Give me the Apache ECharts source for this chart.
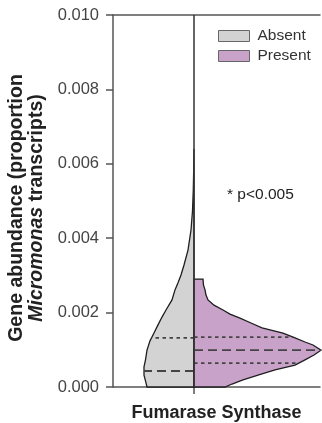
<!DOCTYPE html>
<html>
<head>
<meta charset="utf-8">
<script src="https://cdn.jsdelivr.net/npm/echarts@6/dist/echarts.min.js"></script>
<style>
html,body{margin:0;padding:0;background:#fff;}
#chart{width:322px;height:423px;}
</style>
</head>
<body>
<div id="chart"></div>
<script>
// ---- data ----
const categoryName = 'Fumarase Synthase';
const groupNames = ['Absent', 'Present'];
const yTicks = [0, 0.002, 0.004, 0.006, 0.008, 0.010];

// Absent half-violin: abundance values and half-widths (density, drawn to the left)
const absentValues = [0, 0.00011, 0.00032, 0.00054, 0.00073, 0.00099, 0.00124, 0.00145, 0.00167, 0.00188, 0.00207, 0.00234, 0.00261, 0.0028, 0.00301, 0.00328, 0.00368, 0.00422, 0.00473, 0.0053, 0.00583, 0.0064];
const absentWidths = [47, 48, 50, 50, 48.5, 47, 44, 40, 36, 32, 28, 22, 19, 16, 13, 10, 6, 3, 1.5, 0.7, 0.3, 0];
const absentMedian = 0.00043;
const absentUpperQ = 0.00132;

// Present half-violin (drawn to the right)
const presentValues = [0, 0.00008, 0.00019, 0.00032, 0.00046, 0.00059, 0.00073, 0.00086, 0.00099, 0.00113, 0.00121, 0.00132, 0.00145, 0.00159, 0.00172, 0.00185, 0.00196, 0.00207, 0.0022, 0.00234, 0.00247, 0.00261, 0.00274, 0.0029];
const presentWidths = [31, 38, 49, 64, 81, 101, 111, 120, 127, 119, 111, 101, 89, 68, 57, 46, 36, 29, 20, 14, 12, 11, 9.5, 9];
const presentLowerQ = 0.00064;
const presentMedian = 0.00099;
const presentUpperQ = 0.00134;

const annotation = '* p<0.005';
// ---- end data ----

const colors = {Absent: '#d3d3d3', Present: '#c9a2c9'};

function interpWidth(values, widths, v) {
  for (let i = 0; i < values.length - 1; i++) {
    if (v >= values[i] && v <= values[i + 1]) {
      const t = (v - values[i]) / (values[i + 1] - values[i]);
      return widths[i] + t * (widths[i + 1] - widths[i]);
    }
  }
  return 0;
}

function makeRender(side, values, widths, fill, qLines) {
  return function (params, api) {
    const pts = [api.coord([0, values[0]])];
    for (let i = 0; i < values.length; i++) {
      pts.push(api.coord([side * widths[i], values[i]]));
    }
    pts.push(api.coord([0, values[values.length - 1]]));
    const children = [{
      type: 'polygon',
      shape: {points: pts},
      style: {fill: fill, stroke: '#1e1e1e', lineWidth: 1.3}
    }];
    qLines.forEach(function (q) {
      const w = interpWidth(values, widths, q.v);
      const a = api.coord([0, q.v]);
      const b = api.coord([side * w, q.v]);
      children.push({
        type: 'line',
        shape: {x1: a[0], y1: a[1], x2: b[0], y2: b[1]},
        style: {stroke: '#444', lineWidth: 1.8, lineDash: q.dash}
      });
    });
    return {type: 'group', children: children};
  };
}

const dotted = [3.5, 3.5];
const dashed = [9, 5];

const chart = echarts.init(document.getElementById('chart'), null, {renderer: 'canvas'});
const fontFamily = '"Liberation Sans", Arial, Helvetica, sans-serif';

chart.setOption({
  animation: false,
  backgroundColor: '#fff',
  textStyle: {fontFamily: fontFamily},
  grid: {left: 113, right: 2, top: 15, bottom: 36, containLabel: false, outerBoundsMode: 'none'},
  legend: {
    orient: 'vertical', left: 213, top: 23,
    itemWidth: 31, itemHeight: 11, itemGap: 4,
    textStyle: {fontSize: 15.5, color: '#333', fontFamily: fontFamily, padding: [0, 0, 0, 3]},
    data: groupNames.map(function (n) {
      return {name: n, icon: 'rect', itemStyle: {color: colors[n], borderColor: '#666', borderWidth: 1}};
    })
  },
  graphic: [{
    type: 'text', left: 227, top: 187,
    style: {text: annotation, fontSize: 15.5, fill: '#222', fontFamily: fontFamily}
  }],
  xAxis: [{
    type: 'value', min: -81, max: 126,
    position: 'bottom',
    name: categoryName, nameLocation: 'middle', nameGap: 17,
    nameTextStyle: {fontSize: 18, fontWeight: 'bold', color: '#222', fontFamily: fontFamily},
    axisLine: {show: true, onZero: false, lineStyle: {color: '#555', width: 1.5}},
    axisTick: {show: true, customValues: [0], length: 7, lineStyle: {color: '#555', width: 1.5}},
    axisLabel: {show: false},
    splitLine: {show: false}
  }, {
    type: 'value', min: -81, max: 126,
    position: 'top',
    axisLine: {show: true, onZero: false, lineStyle: {color: '#555', width: 1.5}},
    axisTick: {show: false}, axisLabel: {show: false}, splitLine: {show: false}
  }],
  yAxis: {
    type: 'value', min: 0, max: 0.010, interval: 0.002,
    position: 'left',
    name: 'Gene abundance (proportion\n{it|Micromonas} transcripts)',
    nameLocation: 'middle', nameGap: 52,
    nameTextStyle: {
      fontSize: 19.5, fontWeight: 'bold', color: '#222', fontFamily: fontFamily, lineHeight: 20, align: 'center',
      padding: [0, 14, 0, 0],
      rich: {it: {fontSize: 19.5, fontWeight: 'bold', fontStyle: 'italic', color: '#222', fontFamily: fontFamily}}
    },
    axisLine: {show: true, onZero: false, lineStyle: {color: '#555', width: 1.5}},
    axisTick: {show: true, length: 7, lineStyle: {color: '#555', width: 1.5}},
    axisLabel: {
      fontSize: 16.5, color: '#444', margin: 14, fontFamily: fontFamily,
      formatter: function (v) { return v.toFixed(3); }
    },
    splitLine: {show: false}
  },
  series: [{
    name: 'Absent', type: 'custom', xAxisIndex: 0,
    itemStyle: {color: colors.Absent},
    renderItem: makeRender(-1, absentValues, absentWidths, colors.Absent, [
      {v: absentUpperQ, dash: dotted},
      {v: absentMedian, dash: dashed}
    ]),
    data: [[0, 0]]
  }, {
    name: 'Present', type: 'custom', xAxisIndex: 0,
    itemStyle: {color: colors.Present},
    renderItem: makeRender(1, presentValues, presentWidths, colors.Present, [
      {v: presentUpperQ, dash: dotted},
      {v: presentMedian, dash: dashed},
      {v: presentLowerQ, dash: dotted}
    ]),
    data: [[0, 0]],
    markLine: {
      silent: true, symbol: ['none', 'none'], label: {show: false},
      lineStyle: {color: '#333', width: 1.5, type: 'solid'},
      data: [{xAxis: 0}]
    },
    z: 3
  }]
});
</script>
</body>
</html>
